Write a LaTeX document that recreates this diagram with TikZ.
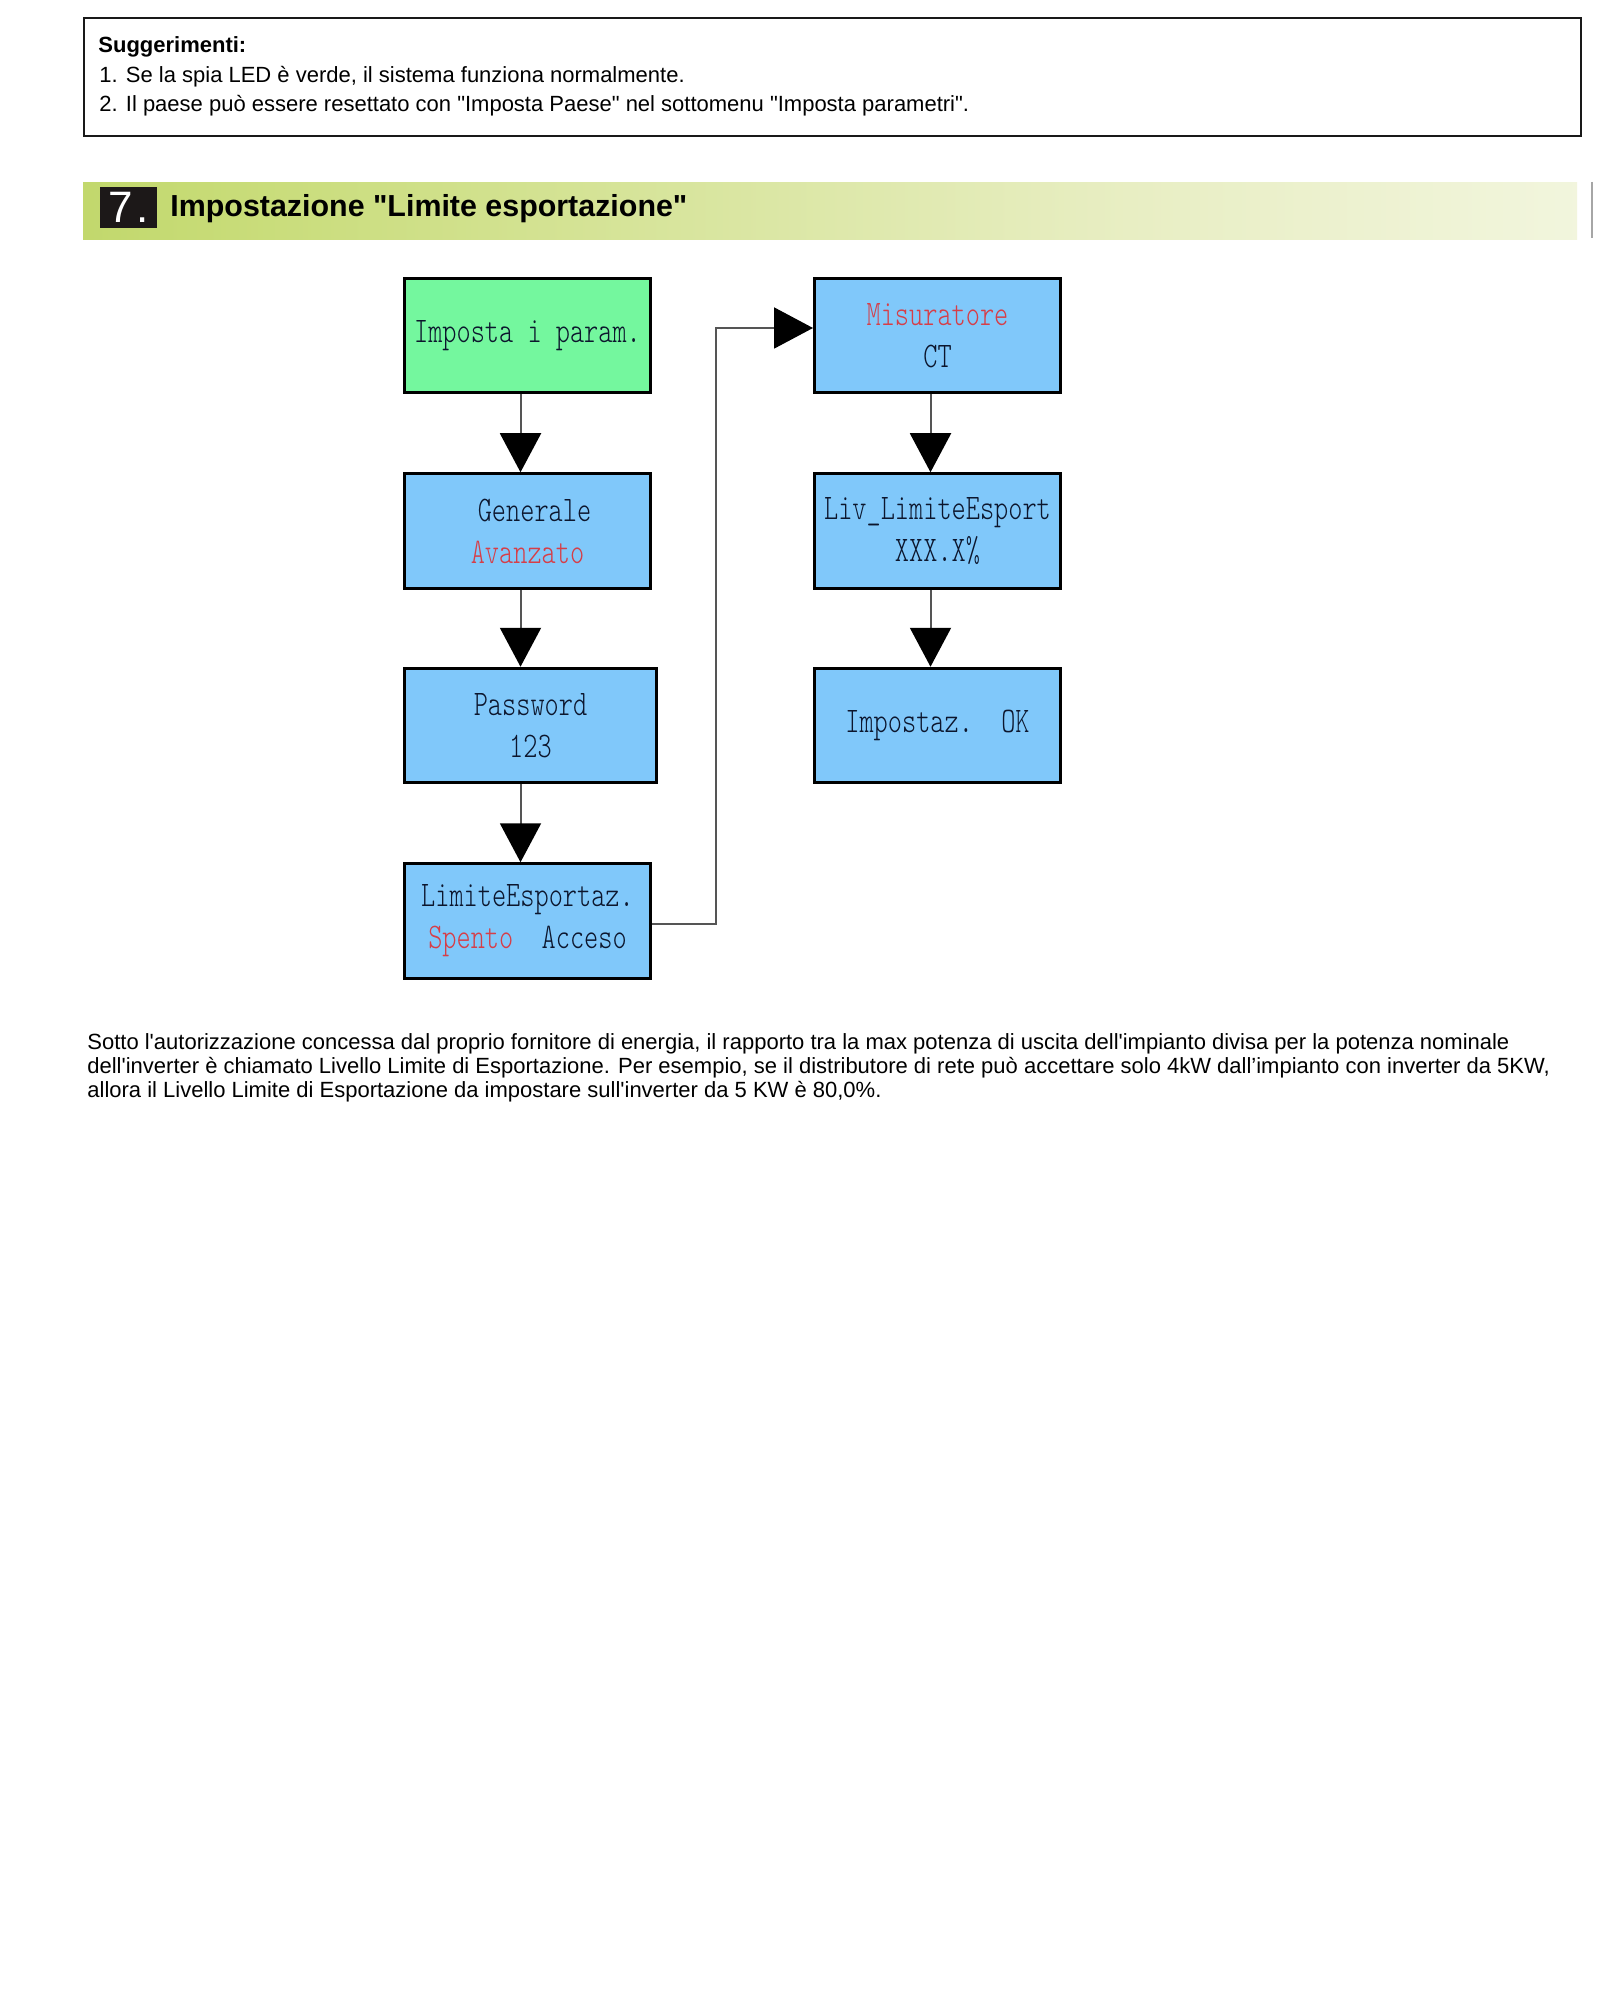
\documentclass[tikz,border=0pt]{standalone}
\usepackage{fontspec}
\usetikzlibrary{arrows.meta}
\newfontfamily\arial{Liberation Sans}
\newfontfamily\boxfont{lmmonolt10-regular}[Extension=.otf,FakeStretch=0.75]
\definecolor{boxgreen}{RGB}{116,247,158}
\definecolor{boxblue}{RGB}{128,200,250}
\definecolor{boxtext}{RGB}{12,22,45}
\definecolor{boxred}{RGB}{214,62,72}
\definecolor{connline}{RGB}{85,85,85}
\definecolor{numbox}{RGB}{28,24,24}
\pgfdeclarehorizontalshading{bandshade}{100bp}{color(0bp)=(rgb,255:red,162;green,196;blue,52); color(30bp)=(rgb,255:red,200;green,220;blue,120); color(60bp)=(rgb,255:red,232;green,238;blue,195); color(85bp)=(rgb,255:red,248;green,250;blue,238); color(100bp)=(rgb,255:red,255;green,255;blue,255)}
\tikzset{
  flowbox/.style={draw=black, line width=1.5pt, minimum width=123pt, minimum height=57.25pt, inner sep=0pt, align=center, text=boxtext, font=\boxfont\fontsize{18}{21}\selectfont},
  greenbox/.style={flowbox, fill=boxgreen},
  bluebox/.style={flowbox, fill=boxblue},
  conn/.style={draw=connline, line width=1pt, -{Triangle[length=19.5pt,width=20.5pt,color=black]}},
  bodytext/.style={anchor=base west, inner sep=0pt, font=\arial\fontsize{11}{13}\selectfont, text=black},
}
\begin{document}
\begin{tikzpicture}[x=0.5pt,y=-0.5pt]
\useasboundingbox (0,0) rectangle (1610,2000);
\fill[white] (0,0) rectangle (1610,2000);
% tips box
\node[draw=black!90, line width=1pt, minimum width=748.5pt, minimum height=59pt, inner sep=0pt] (tips) at (832.5,77) {};
\node[bodytext, font=\arial\bfseries\fontsize{11}{13}\selectfont] (tiphead) at (98,53) {Suggerimenti:};
\node[bodytext] (tip1) at (99,83) {1. Se la spia LED è verde, il sistema funziona normalmente.};
\node[bodytext] (tip2) at (99,112) {2. Il paese può essere resettato con "Imposta Paese" nel sottomenu "Imposta parametri".};
% header band
\shade[shading=bandshade] (83,183) rectangle (1577,240);
\draw[black!35, line width=1pt] (1592,182) -- (1592,238);
\node[fill=numbox, minimum width=28.5pt, minimum height=20.5pt, inner sep=0pt, text=white, font=\arial\fontsize{22}{22}\selectfont] (num) at (128.5,207.5) {7\hspace{1.5pt}.};
\node[anchor=base west, inner sep=0pt, font=\arial\bfseries\fontsize{15.2}{18}\selectfont] (title) at (170,217) {Impostazione "Limite esportazione"};
% flow boxes
\node[greenbox] (imp) at (527.5,335.5) {Imposta i param.};
\node[bluebox] (gen) at (527.5,531) {\hspace*{7pt}Generale\\\textcolor{boxred}{Avanzato}};
\node[bluebox, minimum width=126pt] (pwd) at (530.5,725.5) {Password\\123};
\node[bluebox] (lim) at (527.5,921) {LimiteEsportaz.\\\textcolor{boxred}{Spento}\ \ Acceso};
\node[bluebox] (mis) at (937.5,335.5) {\textcolor{boxred}{Misuratore}\\CT};
\node[bluebox] (liv) at (937.5,531) {Liv\_LimiteEsport\\XXX.X\%};
\node[bluebox] (ok) at (937.5,725.5) {Impostaz.\ \ OK};
% connectors
\draw[conn] ([xshift=-3.5pt]imp.south) -- ([xshift=-3.5pt]imp.south |- gen.north);
\draw[conn] ([xshift=-3.5pt]gen.south) -- ([xshift=-3.5pt]gen.south |- pwd.north);
\draw[conn] ([xshift=-3.5pt]gen.south |- pwd.south) -- ([xshift=-3.5pt]lim.north);
\draw[conn] ([xshift=-3.5pt]mis.south) -- ([xshift=-3.5pt]liv.north);
\draw[conn] ([xshift=-3.5pt]liv.south) -- ([xshift=-3.5pt]ok.north);
\coordinate (bend) at (716,600);
\draw[conn] ([yshift=-1.5pt]lim.east) -- ([yshift=-1.5pt]lim.east -| bend) -- ([yshift=3.75pt]bend |- mis.west) -- ([yshift=3.75pt]mis.west);
% paragraph
\node[bodytext] (par1) at (87,1049) {Sotto l'autorizzazione concessa dal proprio fornitore di energia, il rapporto tra la max potenza di uscita dell'impianto divisa per la potenza nominale};
\node[bodytext] (par2) at (87,1073) {dell'inverter è chiamato Livello Limite di Esportazione. Per esempio, se il distributore di rete può accettare solo 4kW dall’impianto con inverter da 5KW,};
\node[bodytext] (par3) at (87,1097) {allora il Livello Limite di Esportazione da impostare sull'inverter da 5 KW è 80,0\%.};
\end{tikzpicture}
\end{document}
